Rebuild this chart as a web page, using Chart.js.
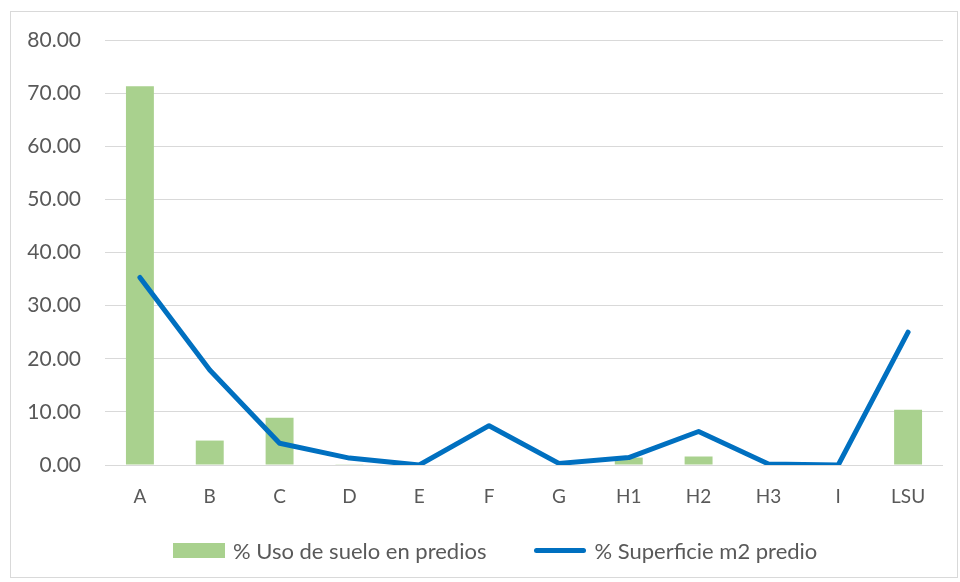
<!DOCTYPE html>
<html>
<head>
<meta charset="utf-8">
<script src="https://cdn.jsdelivr.net/npm/chart.js@4"></script>
<style>
  html, body { margin: 0; padding: 0; background: #fff; }
  #wrap { position: relative; width: 960px; height: 582px; }
  #leyenda {
    position: absolute; left: 173px; top: 536px; height: 28px;
    display: flex; align-items: center;
    font-family: Lato, 'Open Sans', sans-serif; font-size: 22px; color: #595959;
    white-space: nowrap;
  }
  #leyenda .item { display: flex; align-items: center; margin-right: 48px; }
  #leyenda .marca { width: 52px; margin-right: 8px; }
</style>
</head>
<body>
<div id="wrap">
  <canvas id="chart" width="960" height="582"></canvas>
  <div id="leyenda"></div>
</div>
<script>
// datos
const categorias = ['A', 'B', 'C', 'D', 'E', 'F', 'G', 'H1', 'H2', 'H3', 'I', 'LSU'];
const usoSuelo = [71.3, 4.6, 8.9, 0.05, 0.0, 0.1, 0.0, 1.4, 1.6, 0.0, 0.0, 10.4];
const superficie = [35.3, 17.9, 4.1, 1.3, 0.0, 7.4, 0.3, 1.4, 6.3, 0.2, 0.0, 25.0];
const etiquetas = ['% Uso de suelo en predios', '% Superficie m2 predio'];

const fuente = "Lato, 'Open Sans', sans-serif";
const gris = '#595959';

// marco exterior del gráfico
const marco = {
    id: 'marco',
    beforeDraw(chart) {
        const ctx = chart.ctx;
        ctx.save();
        ctx.strokeStyle = '#d9d9d9';
        ctx.lineWidth = 1;
        ctx.strokeRect(10.5, 11.5, 947, 566);
        ctx.restore();
    }
};

const grafico = new Chart(document.getElementById('chart'), {
    type: 'bar',
    data: {
        labels: categorias,
        datasets: [{
            label: etiquetas[0],
            data: usoSuelo,
            backgroundColor: '#a9d18e',
            borderWidth: 0,
            categoryPercentage: 0.4,
            barPercentage: 1,
            order: 1
        }, {
            type: 'line',
            label: etiquetas[1],
            data: superficie,
            borderColor: '#0070c0',
            backgroundColor: '#0070c0',
            borderWidth: 5,
            pointRadius: 0,
            tension: 0,
            fill: false,
            borderJoinStyle: 'round',
            borderCapStyle: 'round',
            order: 0
        }]
    },
    options: {
        responsive: false,
        animation: false,
        layout: { padding: { left: 0, right: 17, top: 40, bottom: 67 } },
        plugins: {
            title: { display: false },
            tooltip: { enabled: false },
            legend: { display: false }
        },
        scales: {
            x: {
                grid: { display: false, drawTicks: false },
                border: { display: false },
                ticks: { color: gris, font: { family: fuente, size: 19 }, padding: 20 },
                afterFit(scale) { scale.height = 50; }
            },
            y: {
                min: 0,
                max: 80,
                grid: { color: '#d9d9d9', lineWidth: 1, drawTicks: false },
                border: { display: false },
                ticks: {
                    stepSize: 10,
                    color: gris,
                    font: { family: fuente, size: 21 },
                    padding: 24,
                    callback: v => v.toFixed(2)
                },
                afterFit(scale) { scale.width = 105; }
            }
        }
    },
    plugins: [marco]
});

// leyenda en HTML a partir de los datasets
const leyenda = document.getElementById('leyenda');
grafico.data.datasets.forEach(ds => {
    const item = document.createElement('div');
    item.className = 'item';
    const marca = document.createElement('span');
    marca.className = 'marca';
    if (ds.type === 'line') {
        marca.style.height = ds.borderWidth + 'px';
        marca.style.borderRadius = '3px';
        marca.style.background = ds.borderColor;
    } else {
        marca.style.height = '15px';
        marca.style.background = ds.backgroundColor;
    }
    const texto = document.createElement('span');
    texto.textContent = ds.label;
    item.appendChild(marca);
    item.appendChild(texto);
    leyenda.appendChild(item);
});
</script>
</body>
</html>
